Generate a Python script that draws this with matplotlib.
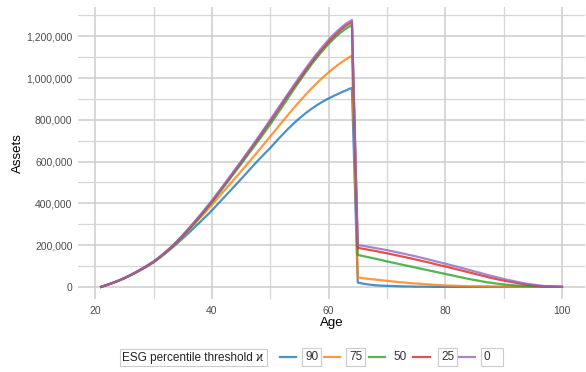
import matplotlib
matplotlib.use("Agg")
import matplotlib.pyplot as plt
from matplotlib.lines import Line2D
from matplotlib.ticker import FuncFormatter, MultipleLocator

plt.rcParams["font.family"] = ["Liberation Sans", "DejaVu Sans"]

# Ages over the life cycle
ages = list(range(21, 101))

# Asset paths (thousands) for each ESG percentile threshold
assets_90 = [
    0, 9, 19, 30, 42, 55, 69, 84, 100, 117,
    138, 160, 183, 207, 232, 258, 284, 311, 338, 366,
    396, 426, 456, 486, 516, 547, 578, 608, 637, 665,
    696, 726, 755, 782, 807, 830, 851, 870, 887, 902,
    916, 929, 941, 953,
    21, 15, 11, 8, 6, 5, 4, 3, 2, 2,
    1, 1, 1, 0, 0, 0, 0, 0, 0, 0,
    0, 0, 0, 0, 0, 0, 0, 0, 0, 0,
    0, 0, 0, 0, 0, 0,
]
assets_75 = [
    0, 9, 19, 30, 42, 55, 69, 85, 101, 119,
    140, 162, 186, 212, 240, 270, 300, 331, 362, 393,
    425, 457, 489, 521, 553, 586, 619, 652, 686, 720,
    754, 788, 822, 855, 887, 918, 948, 976, 1002, 1027,
    1050, 1071, 1090, 1107,
    45, 41, 38, 35, 32, 29, 26, 23, 21, 18,
    16, 14, 12, 10, 9, 7, 6, 5, 4, 3,
    3, 2, 2, 1, 1, 1, 0, 0, 0, 0,
    0, 0, 0, 0, 0, 0,
]
assets_50 = [
    0, 9, 19, 29, 41, 55, 70, 85, 102, 120,
    140, 163, 187, 214, 243, 274, 305, 337, 371, 405,
    441, 477, 514, 551, 588, 626, 663, 701, 739, 778,
    819, 860, 902, 944, 984, 1024, 1062, 1098, 1131, 1163,
    1191, 1216, 1237, 1254,
    153, 147, 141, 135, 129, 122, 116, 110, 104, 98,
    92, 86, 80, 74, 68, 62, 56, 50, 44, 38,
    33, 28, 23, 19, 15, 12, 9, 7, 5, 4,
    3, 2, 1, 1, 0, 0,
]
assets_25 = [
    0, 9, 19, 30, 42, 56, 71, 87, 103, 121,
    142, 165, 190, 217, 246, 277, 309, 342, 376, 410,
    447, 484, 521, 559, 597, 635, 674, 713, 753, 793,
    834, 875, 916, 956, 996, 1035, 1073, 1109, 1142, 1174,
    1203, 1229, 1251, 1268,
    187, 182, 177, 172, 166, 161, 155, 149, 143, 137,
    131, 124, 118, 111, 104, 98, 91, 84, 77, 70,
    63, 56, 49, 42, 36, 30, 25, 20, 15, 11,
    8, 5, 3, 2, 1, 0,
]
assets_0 = [
    0, 9, 19, 30, 42, 56, 71, 87, 104, 122,
    143, 166, 191, 218, 248, 279, 311, 344, 378, 413,
    450, 487, 525, 563, 601, 640, 679, 719, 759, 800,
    841, 882, 923, 964, 1004, 1043, 1081, 1117, 1151, 1183,
    1212, 1238, 1260, 1278,
    200, 196, 191, 186, 181, 176, 170, 164, 158, 152,
    146, 139, 132, 125, 118, 111, 104, 97, 89, 82,
    74, 67, 59, 52, 45, 38, 32, 26, 20, 15,
    11, 7, 4, 2, 1, 0,
]

thresholds = ["90", "75", "50", "25", "0"]
series = [assets_90, assets_75, assets_50, assets_25, assets_0]
colors = ["#1f77b4", "#ff7f0e", "#2ca02c", "#d62728", "#9467bd"]

W, H = 586, 372
fig = plt.figure(figsize=(W / 100, H / 100), dpi=100)
ax = fig.add_axes([78 / W, 1 - 299 / H, (585 - 78) / W, (299 - 7) / H])

for vals, col in zip(series, colors):
    ax.plot(ages, [v * 1000 for v in vals], color=col, alpha=0.8, lw=1.6,
            solid_joinstyle="round")

ax.margins(x=0.05, y=0.05)
ax.set_ylim(-58000, 1340000)

ax.xaxis.set_major_locator(MultipleLocator(20))
ax.xaxis.set_minor_locator(MultipleLocator(10))
ax.yaxis.set_major_locator(MultipleLocator(200000))
ax.yaxis.set_minor_locator(MultipleLocator(100000))
ax.yaxis.set_major_formatter(FuncFormatter(lambda v, p: f"{int(round(v)):,}"))

ax.grid(which="major", color="#cdcdcd", lw=1.1)
ax.grid(which="minor", color="#d6d6d6", lw=0.9)
ax.set_axisbelow(True)
for s in ax.spines.values():
    s.set_visible(False)
ax.tick_params(which="both", length=0, labelsize=7.5, labelcolor="#4d4d4d")
ax.tick_params(axis="x", pad=5)
ax.tick_params(axis="y", pad=4)

ax.set_xlabel("Age", fontsize=9.5)
ax.set_ylabel("Assets", fontsize=9.5)
ax.xaxis.set_label_coords(0.5, (299 - 323) / 292, transform=ax.transAxes)
ax.yaxis.set_label_coords((18 - 78) / 507, 0.5, transform=ax.transAxes)
ax.xaxis.label.set_va("center")
ax.yaxis.label.set_va("center")


def fx(px):
    return px / W


def fy(py):
    return 1 - py / H


# Legend row along the bottom
fig.text(fx(122.5), fy(357.5), "ESG percentile threshold \u03f0", fontsize=8.5,
         va="center", ha="left", color="#222222",
         bbox=dict(boxstyle="square,pad=0.25", fc="white", ec="#cccccc", lw=0.8))

line_spans = [(280, 296), (324, 340), (369, 385), (413, 430), (458, 475)]
label_x = [305, 349, 393, 441, 484]
boxed = [True, True, False, True, True]
for (x0, x1), lx, lab, col, b in zip(line_spans, label_x, thresholds, colors, boxed):
    fig.add_artist(Line2D([fx(x0), fx(x1)], [fy(357.3), fy(357.3)],
                          transform=fig.transFigure, color=col, alpha=0.8, lw=1.6))
    kw = {}
    if b:
        kw["bbox"] = dict(boxstyle="square,pad=0.25", fc="white", ec="#cccccc", lw=0.8)
    txt = lab if lab != "0" else "0   "
    fig.text(fx(lx), fy(357), txt, fontsize=8.5, va="center", ha="left",
             color="#333333", **kw)

fig.savefig("out.png", dpi=100)
